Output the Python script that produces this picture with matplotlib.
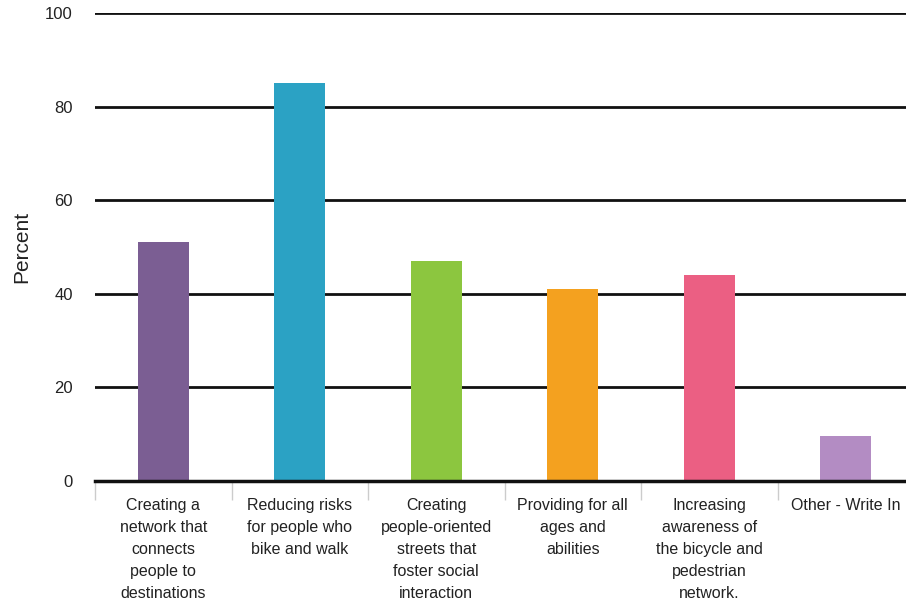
import numpy as np
import matplotlib

matplotlib.use('agg')

import matplotlib.pyplot as plt

plt.rcParams['font.family'] = ['Liberation Sans', 'DejaVu Sans']

categories = [
    'Creating a\nnetwork that\nconnects\npeople to\ndestinations',
    'Reducing risks\nfor people who\nbike and walk',
    'Creating\npeople-oriented\nstreets that\nfoster social\ninteraction',
    'Providing for all\nages and\nabilities',
    'Increasing\nawareness of\nthe bicycle and\npedestrian\nnetwork.',
    'Other - Write In',
]
percents = [51, 85, 47, 41, 44, 9.6]
colors = ['#7B5E93', '#2BA2C4', '#8CC63F', '#F4A11F', '#EB5F83', '#B38CC3']
y_ticks = [0, 20, 40, 60, 80, 100]

fig = plt.figure(figsize=(9.06, 6.07), dpi=100)
# axes runs a bit past the right edge, like the original
ax = fig.add_axes([95 / 906, 126 / 607, 819 / 906, 468 / 607])

x = np.arange(len(categories))
ax.bar(x, percents, width=0.375, color=colors, zorder=3)

ax.set_xlim(-0.5, len(categories) - 0.5)
ax.set_ylim(0, 100)
ax.set_yticks(y_ticks)
ax.yaxis.grid(True, color='#111111', linewidth=2, zorder=1)
ax.set_axisbelow(True)

for side in ['top', 'right', 'left']:
    ax.spines[side].set_visible(False)
ax.spines['bottom'].set_linewidth(2.5)
ax.spines['bottom'].set_color('#111111')
ax.spines['bottom'].set_zorder(4)

ax.set_xticks(x)
ax.set_xticklabels(categories, fontsize=11.5, color='#222222', linespacing=1.58,
                   va='top')
ax.tick_params(axis='x', which='major', length=0, pad=12)
ax.set_xticks(np.arange(len(categories)) - 0.5, minor=True)
ax.tick_params(axis='x', which='minor', length=14, width=1, color='#cccccc')

ax.tick_params(axis='y', length=0, pad=16, labelsize=12, labelcolor='#222222')
ax.set_ylabel('Percent', fontsize=15, color='#222222', labelpad=10)

fig.savefig('out.png', dpi=100)
